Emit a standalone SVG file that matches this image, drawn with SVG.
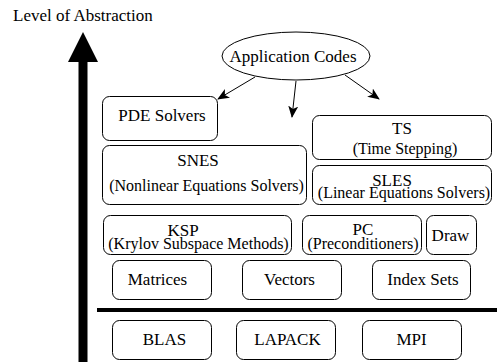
<svg xmlns="http://www.w3.org/2000/svg" width="497" height="362" viewBox="0 0 497 362">
  <style>
    .box { fill: #fff; stroke: #000; stroke-width: 1; }
    .t { font-family: "Liberation Serif", "Times New Roman", serif; fill: #000; text-anchor: middle; }
    .big { font-size: 17px; }
    .sub { font-size: 16px; }
    .edge { stroke: #000; stroke-width: 1; fill: none; marker-end: url(#head); }
  </style>
  <defs>
    <marker id="head" viewBox="0 0 12 10" refX="11" refY="5" markerWidth="12" markerHeight="10" markerUnits="userSpaceOnUse" orient="auto">
      <path d="M0,0 L12,5 L0,10 L3,5 Z" fill="#000"/>
    </marker>
  </defs>
  <rect width="497" height="362" fill="#fff"/>

  <!-- axis -->
  <g id="axis">
    <text class="t big" x="13" y="21" text-anchor="start" style="text-anchor:start">Level of Abstraction</text>
    <rect x="78.5" y="60" width="9" height="302" fill="#000"/>
    <polygon points="83,32 98,62 68,62" fill="#000"/>
    <rect x="97" y="308" width="400" height="4" fill="#000"/>
  </g>

  <g id="connectors">
    <path class="edge" d="M255,77 L218,99"/>
    <path class="edge" d="M296,81 L292,117"/>
    <path class="edge" d="M345,75 L379,99"/>
  </g>

  <g id="app">
    <ellipse cx="296" cy="56" rx="74" ry="24" class="box"/>
    <text class="t big" x="293" y="62">Application Codes</text>
  </g>

  <g id="pde">
    <rect class="box" x="102.5" y="96.5" width="115" height="44" rx="7"/>
    <text class="t big" x="162" y="121">PDE Solvers</text>
  </g>

  <g id="ts">
    <rect class="box" x="312.5" y="115.5" width="179" height="44" rx="7"/>
    <text class="t big" x="402" y="134">TS</text>
    <text class="t sub" x="405" y="154">(Time Stepping)</text>
  </g>

  <g id="snes">
    <rect class="box" x="102.5" y="145.5" width="204" height="59" rx="7"/>
    <text class="t big" x="198" y="166">SNES</text>
    <text class="t sub" x="206.5" y="191">(Nonlinear Equations Solvers)</text>
  </g>

  <g id="sles">
    <rect class="box" x="312.5" y="165.5" width="179" height="39" rx="7"/>
    <text class="t big" x="392" y="186">SLES</text>
    <text class="t sub" x="404" y="198">(Linear Equations Solvers)</text>
  </g>

  <g id="ksp">
    <rect class="box" x="103.5" y="215.5" width="188" height="39" rx="7"/>
    <text class="t big" x="183" y="236">KSP</text>
    <text class="t sub" x="198.5" y="249">(Krylov Subspace Methods)</text>
  </g>

  <g id="pc">
    <rect class="box" x="302.5" y="215.5" width="119" height="39" rx="7"/>
    <text class="t big" x="363" y="235">PC</text>
    <text class="t sub" x="363" y="249">(Preconditioners)</text>
  </g>

  <g id="draw">
    <rect class="box" x="426.5" y="215.5" width="50" height="39" rx="7"/>
    <text class="t big" x="450.5" y="241">Draw</text>
  </g>

  <g id="matrices">
    <rect class="box" x="112.5" y="260.5" width="99" height="39" rx="7"/>
    <text class="t big" x="157.5" y="285">Matrices</text>
  </g>

  <g id="vectors">
    <rect class="box" x="242.5" y="260.5" width="99" height="39" rx="7"/>
    <text class="t big" x="289.5" y="285">Vectors</text>
  </g>

  <g id="indexsets">
    <rect class="box" x="372.5" y="260.5" width="98" height="39" rx="7"/>
    <text class="t big" x="423" y="285">Index Sets</text>
  </g>

  <g id="blas">
    <rect class="box" x="112.5" y="320.5" width="99" height="39" rx="7"/>
    <text class="t big" x="164.5" y="345">BLAS</text>
  </g>

  <g id="lapack">
    <rect class="box" x="236.5" y="320.5" width="99" height="39" rx="7"/>
    <text class="t big" x="287.5" y="345">LAPACK</text>
  </g>

  <g id="mpi">
    <rect class="box" x="362.5" y="320.5" width="99" height="39" rx="7"/>
    <text class="t big" x="411.5" y="345">MPI</text>
  </g>
</svg>
